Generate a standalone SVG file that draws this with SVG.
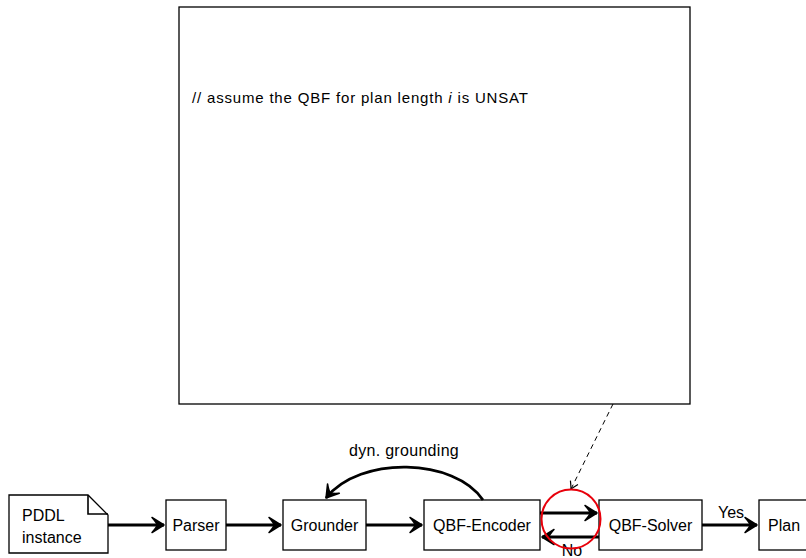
<svg xmlns="http://www.w3.org/2000/svg" width="806" height="558" viewBox="0 0 806 558">
<style>
.box{fill:#fff;stroke:#000;stroke-width:1.3}
.t{font-family:"Liberation Sans",Arial,sans-serif;font-size:16px;fill:#000}
.conn{fill:none;stroke:#000;stroke-width:2.8}
</style>
<defs>
<marker id="ah" markerUnits="userSpaceOnUse" markerWidth="20" markerHeight="20" viewBox="-14 -10 16 20" refX="0" refY="0" orient="auto">
<path d="M0,0 L-12,-7.5 Q-7,-2 -7,0 Q-7,2 -12,7.5 Z" fill="#000" stroke="#000" stroke-width="1.5" stroke-linejoin="round"/>
</marker>
<marker id="ad" markerUnits="userSpaceOnUse" markerWidth="12" markerHeight="12" viewBox="-8 -5 10 10" refX="0" refY="0" orient="auto">
<path d="M-6,-3.5 Q-2,-1 0,0 Q-2,1 -6,3.5" fill="none" stroke="#000" stroke-width="1"/>
</marker>
</defs>
<g id="note">
<rect x="179" y="7" width="511" height="397" class="box"/>
<text x="192" y="103" font-family="Liberation Sans,Arial,sans-serif" font-size="15" textLength="336" lengthAdjust="spacing">// assume the QBF for plan length <tspan font-style="italic">i</tspan> is UNSAT</text>
</g>
<g id="pddl">
<path d="M9,495 H88 L108,515 V553 H9 Z" class="box" stroke-width="1.6"/>
<path d="M88,495 V514 H108" fill="none" stroke="#000" stroke-width="1.6"/>
<text x="22" y="521" class="t">PDDL</text>
<text x="22" y="543" class="t">instance</text>
</g>
<g id="parser">
<rect x="166" y="500" width="60" height="50" class="box"/>
<text x="196" y="531" class="t" text-anchor="middle">Parser</text>
</g>
<g id="grounder">
<rect x="283" y="500" width="83" height="50" class="box"/>
<text x="324.5" y="531" class="t" text-anchor="middle">Grounder</text>
</g>
<g id="encoder">
<rect x="424" y="500" width="116" height="50" class="box"/>
<text x="482" y="531" class="t" text-anchor="middle">QBF-Encoder</text>
</g>
<g id="solver">
<rect x="599" y="500" width="103" height="50" class="box"/>
<text x="650.5" y="531" class="t" text-anchor="middle">QBF-Solver</text>
</g>
<g id="plan">
<rect x="759" y="500" width="60" height="50" class="box"/>
<text x="768" y="531" class="t">Plan</text>
</g>
<g id="connectors">
<line x1="108" y1="525" x2="164" y2="525" class="conn" marker-end="url(#ah)"/>
<line x1="226" y1="525" x2="281" y2="525" class="conn" marker-end="url(#ah)"/>
<line x1="366" y1="525" x2="422" y2="525" class="conn" marker-end="url(#ah)"/>
<line x1="540" y1="513" x2="597" y2="513" class="conn" marker-end="url(#ah)"/>
<line x1="599" y1="537" x2="542" y2="537" class="conn" marker-end="url(#ah)"/>
<line x1="702" y1="525" x2="757" y2="525" class="conn" marker-end="url(#ah)"/>
<path d="M483,500 C455,458 360,455 326,498" class="conn" marker-end="url(#ah)"/>
<line x1="613" y1="404" x2="571" y2="489" fill="none" stroke="#000" stroke-width="1" stroke-dasharray="5,4" marker-end="url(#ad)"/>
<text x="404" y="456" class="t" text-anchor="middle" letter-spacing="0.3">dyn.  grounding</text>
<text x="731" y="518" class="t" text-anchor="middle">Yes</text>
<text x="572" y="556" class="t" text-anchor="middle">No</text>
</g>
<circle cx="571" cy="519" r="29.5" fill="none" stroke="#e8000b" stroke-width="2"/>
</svg>
